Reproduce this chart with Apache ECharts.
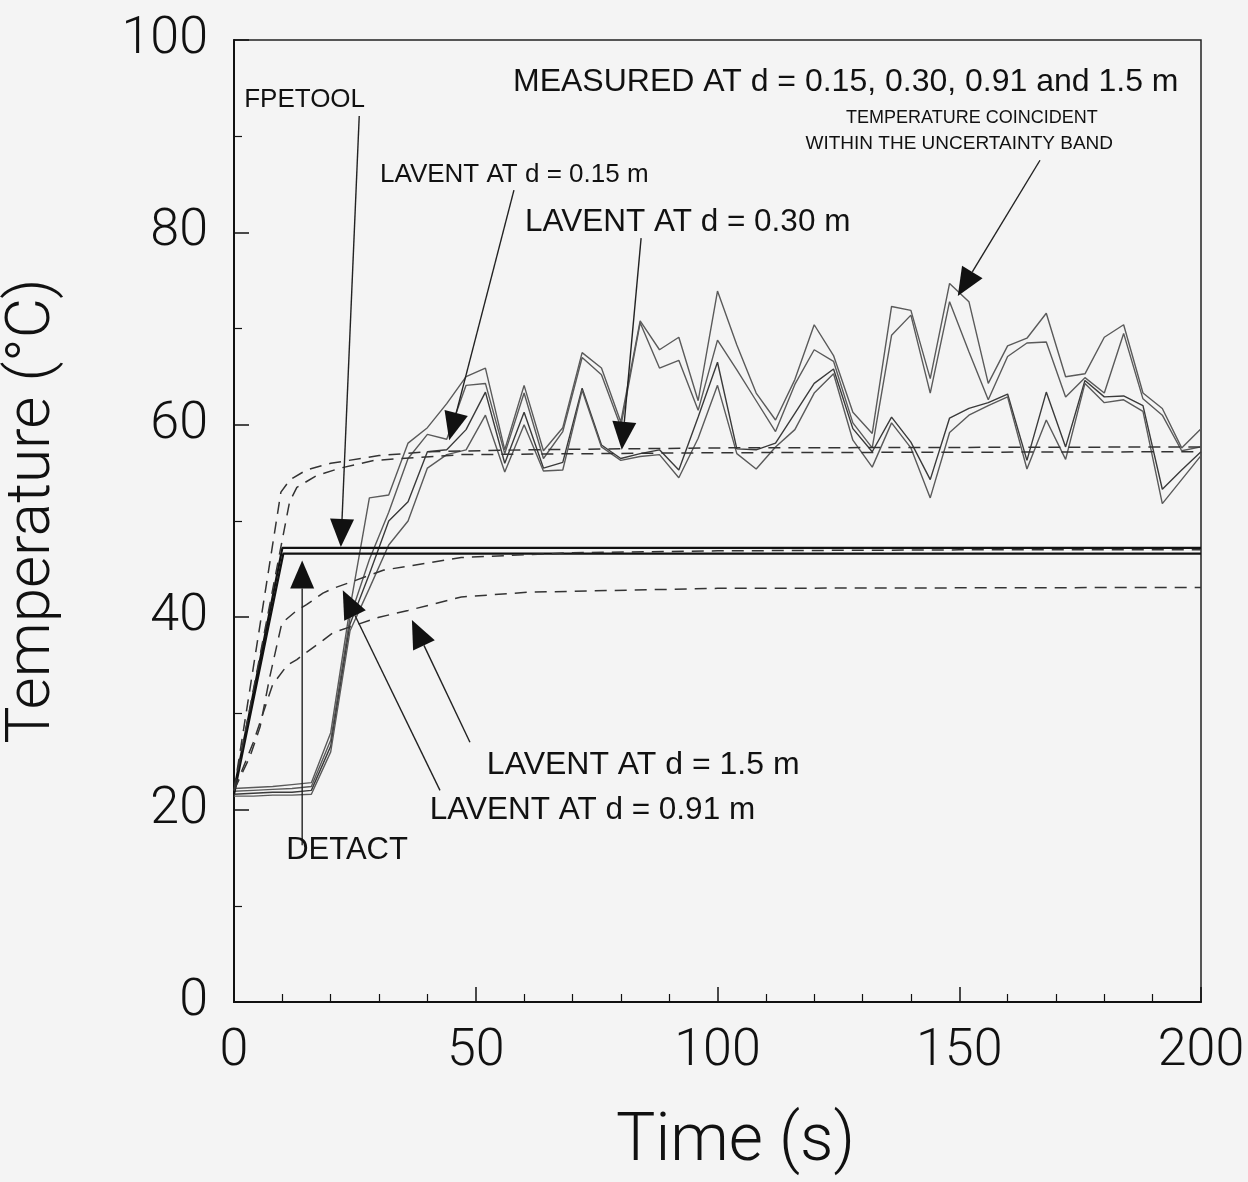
<!DOCTYPE html>
<html>
<head>
<meta charset="utf-8">
<script src="https://cdn.jsdelivr.net/npm/echarts@6/dist/echarts.min.js"></script>
<style>
  html, body { margin: 0; padding: 0; background: #f4f4f4; }
  #chart { width: 1248px; height: 1182px; }
</style>
</head>
<body>
<div id="chart"></div>
<script>
// measured temperatures (4 thermocouples), sampled every 4 s
var time = [0, 4, 8, 12, 16, 20, 24, 28, 32, 36, 40, 44, 48, 52, 56, 60, 64, 68, 72, 76,
  80, 84, 88, 92, 96, 100, 104, 108, 112, 116, 120, 124, 128, 132, 136, 140, 144, 148,
  152, 156, 160, 164, 168, 172, 176, 180, 184, 188, 192, 196, 200];

var measuredA = [22.2, 22.3, 22.4, 22.6, 22.8, 28.0, 41.0, 52.4, 52.7, 58.1, 59.7, 62.2, 65.0,
  65.9, 57.4, 64.1, 57.3, 59.7, 67.5, 65.9, 60.3, 70.8, 67.8, 69.1, 62.5, 73.9, 68.3, 63.3,
  60.5, 64.7, 70.4, 67.2, 61.3, 59.1, 72.3, 71.9, 64.8, 74.7, 72.8, 64.3, 68.2, 69.0, 71.6,
  65.0, 65.3, 69.1, 70.4, 63.3, 61.7, 57.6, 59.6];
var measuredB = [21.9, 22.0, 22.1, 22.2, 22.4, 27.2, 40.0, 46.0, 50.9, 56.5, 59.0, 58.5, 64.1,
  64.3, 57.0, 63.3, 56.5, 59.3, 67.0, 65.2, 59.8, 70.6, 65.9, 66.7, 61.5, 68.8, 65.7, 62.5,
  59.3, 64.2, 67.8, 66.6, 60.2, 57.6, 69.3, 71.4, 63.3, 72.8, 67.6, 62.6, 67.1, 68.5, 68.6,
  62.9, 64.9, 63.3, 69.5, 62.7, 61.0, 57.3, 57.7];
var measuredC = [21.6, 21.7, 21.8, 21.8, 22.0, 26.6, 39.3, 44.5, 50.0, 52.0, 57.2, 57.4, 59.5,
  63.4, 56.0, 61.3, 55.5, 56.1, 63.8, 57.9, 56.5, 57.0, 57.4, 55.3, 60.8, 66.5, 57.5, 57.4,
  58.1, 61.2, 64.3, 65.8, 59.6, 57.2, 60.8, 58.2, 54.3, 60.7, 61.7, 62.3, 63.2, 56.3, 63.4,
  57.7, 64.6, 62.9, 63.0, 62.0, 53.3, 55.3, 57.2];
var measuredD = [21.4, 21.4, 21.5, 21.5, 21.6, 26.0, 38.6, 43.0, 47.5, 50.0, 55.5, 56.9, 57.4,
  61.0, 55.1, 60.0, 55.2, 55.3, 63.6, 57.7, 56.3, 56.7, 56.9, 54.5, 58.6, 64.1, 57.0, 55.4,
  57.7, 59.5, 63.3, 65.3, 58.4, 55.6, 60.2, 57.6, 52.4, 59.2, 61.0, 62.0, 62.9, 55.4, 60.5,
  56.4, 64.3, 62.3, 62.6, 61.4, 51.8, 54.3, 56.8];

// model predictions
var fpetoolTime = [0, 10, 200];
var fpetool = [22.0, 47.2, 47.2];
var detactTime = [0, 10.2, 200];
var detact = [21.6, 46.6, 46.6];

var lavent015Time = [0, 9.7, 11.6, 15, 20, 30, 40, 60, 100, 200];
var lavent015 = [22.0, 53.0, 54.3, 55.3, 56.0, 56.8, 57.2, 57.4, 57.6, 57.7];
var lavent030Time = [0, 11.5, 13, 17, 22, 29, 47, 100, 200];
var lavent030 = [22.0, 52.0, 53.5, 54.7, 55.5, 56.3, 56.9, 57.1, 57.2];
var lavent091Time = [0, 3.3, 5.4, 7.4, 9.9, 13, 15, 18.4, 20.5, 25, 31, 47, 70, 100, 150, 200];
var lavent091 = [22.0, 25.5, 28.6, 33.8, 39.4, 40.7, 41.3, 42.5, 43.0, 43.8, 44.9, 46.2, 46.7, 46.9, 47.0, 47.0];
var lavent15Time = [0, 4, 8, 11, 13, 18.4, 20.5, 30, 36, 47, 61, 100, 200];
var lavent15 = [22.0, 27.0, 33.0, 35.0, 35.6, 37.6, 38.4, 40.0, 40.7, 42.1, 42.6, 43.0, 43.1];

var xTicks = [0, 50, 100, 150, 200];
var yTicks = [0, 20, 40, 60, 80, 100];

// annotations, in data coordinates (time, temperature)
var arrows = [
  { from: [25.9, 92.1], to: [22.1, 47.3] },   // FPETOOL
  { from: [14.1, 16.3], to: [14.1, 45.9] },   // DETACT
  { from: [57.9, 84.4], to: [44.5, 58.4] },   // LAVENT 0.15
  { from: [84.2, 79.4], to: [80.2, 57.4] },   // LAVENT 0.30
  { from: [166.7, 87.5], to: [149.7, 73.4] }, // MEASURED
  { from: [48.8, 27.0], to: [36.8, 39.7] },   // LAVENT 1.5
  { from: [42.6, 22.0], to: [22.5, 42.8] }    // LAVENT 0.91
];
var notes = [
  { text: "FPETOOL", at: [2.1, 93.8], size: 26, align: "left" },
  { text: "MEASURED AT d = 0.15, 0.30, 0.91 and 1.5 m", at: [57.7, 95.6], size: 32, align: "left" },
  { text: "TEMPERATURE COINCIDENT", at: [152.6, 91.9], size: 18, align: "center" },
  { text: "WITHIN THE UNCERTAINTY BAND", at: [150.0, 89.2], size: 19, align: "center" },
  { text: "LAVENT AT d = 0.15 m", at: [30.2, 86.0], size: 26, align: "left" },
  { text: "LAVENT AT d = 0.30 m", at: [60.2, 81.1], size: 31.5, align: "left" },
  { text: "LAVENT AT d = 1.5 m", at: [52.3, 24.6], size: 32, align: "left" },
  { text: "LAVENT AT d = 0.91 m", at: [40.5, 19.9], size: 31.5, align: "left" },
  { text: "DETACT", at: [10.8, 15.8], size: 31, align: "left" }
];

function pairs(xs, ys) {
  return xs.map(function (x, i) {
    return [x, ys[i]];
  });
}

function lineSeries(name, data, color, width, dash) {
  return {
    name: name,
    type: "line",
    data: data,
    symbol: "none",
    smooth: false,
    silent: true,
    lineStyle: { color: color, width: width, type: dash || "solid" },
    z: 3,
  };
}

var chart = echarts.init(document.getElementById("chart"));
var axisFont = { fontFamily: "Roboto", fontWeight: 300, color: "#111" };

var option = {
  backgroundColor: "#f4f4f4",
  animation: false,
  grid: {
    left: 234, right: 47, top: 40, bottom: 180,
    outerBoundsMode: "none", containLabel: false,
    show: true, borderColor: "#222", borderWidth: 1.5,
  },
  xAxis: {
    type: "value", min: 0, max: 200, interval: 50,
    name: "Time (s)", nameLocation: "middle", nameGap: 108,
    nameTextStyle: Object.assign({ fontSize: 66, padding: [0, 0, 0, 36] }, axisFont),
    axisLine: { lineStyle: { color: "#111", width: 2 } },
    axisTick: { inside: true, length: 15, lineStyle: { color: "#111", width: 1.5 } },
    minorTick: { show: true, splitNumber: 5, length: 8, lineStyle: { color: "#111", width: 1.2 } },
    axisLabel: Object.assign({ fontSize: 52, margin: 24,
      formatter: function (v) { return xTicks.indexOf(v) >= 0 ? v : ""; } }, axisFont),
    splitLine: { show: false },
  },
  yAxis: {
    type: "value", min: 0, max: 100, interval: 20,
    name: "Temperature (°C)", nameLocation: "middle", nameGap: 170,
    nameTextStyle: Object.assign({ fontSize: 62, padding: [0, 0, 0, 20] }, axisFont),
    axisLine: { lineStyle: { color: "#111", width: 2 } },
    axisTick: { inside: true, length: 15, lineStyle: { color: "#111", width: 1.5 } },
    minorTick: { show: true, splitNumber: 2, length: 8, lineStyle: { color: "#111", width: 1.2 } },
    axisLabel: Object.assign({ fontSize: 52, margin: 26,
      formatter: function (v) { return yTicks.indexOf(v) >= 0 ? v : ""; } }, axisFont),
    splitLine: { show: false },
  },
  series: [
    lineSeries("Measured A", pairs(time, measuredA), "#5a5a5a", 1.4),
    lineSeries("Measured B", pairs(time, measuredB), "#5a5a5a", 1.4),
    lineSeries("Measured C", pairs(time, measuredC), "#3a3a3a", 1.4),
    lineSeries("Measured D", pairs(time, measuredD), "#5a5a5a", 1.4),
    lineSeries("FPETOOL", pairs(fpetoolTime, fpetool), "#111", 2.2),
    lineSeries("DETACT", pairs(detactTime, detact), "#111", 2.2),
    lineSeries("LAVENT 0.15", pairs(lavent015Time, lavent015), "#333", 1.5, [12, 8]),
    lineSeries("LAVENT 0.30", pairs(lavent030Time, lavent030), "#333", 1.5, [12, 8]),
    lineSeries("LAVENT 0.91", pairs(lavent091Time, lavent091), "#333", 1.5, [12, 8]),
    lineSeries("LAVENT 1.5", pairs(lavent15Time, lavent15), "#333", 1.5, [12, 8]),
  ],
};
chart.setOption(option);

// arrows and notes placed through the grid's own coordinate system
var graphics = [];
arrows.forEach(function (a) {
  var p0 = chart.convertToPixel({ gridIndex: 0 }, a.from);
  var p1 = chart.convertToPixel({ gridIndex: 0 }, a.to);
  var dx = p1[0] - p0[0], dy = p1[1] - p0[1];
  var len = Math.sqrt(dx * dx + dy * dy);
  var ux = dx / len, uy = dy / len;
  var hl = 28, hw = 12;
  var bx = p1[0] - ux * hl, by = p1[1] - uy * hl;
  graphics.push({
    type: "line", silent: true, z: 10,
    shape: { x1: p0[0], y1: p0[1], x2: bx, y2: by },
    style: { stroke: "#222", lineWidth: 1.4 },
  });
  graphics.push({
    type: "polygon", silent: true, z: 10,
    shape: { points: [[p1[0], p1[1]], [bx - uy * hw, by + ux * hw], [bx + uy * hw, by - ux * hw]] },
    style: { fill: "#111" },
  });
});
notes.forEach(function (n) {
  var p = chart.convertToPixel({ gridIndex: 0 }, n.at);
  graphics.push({
    type: "text", silent: true, z: 10, x: p[0], y: p[1],
    style: {
      text: n.text, fill: "#111", align: n.align, verticalAlign: "middle",
      font: "normal " + n.size + "px 'Liberation Sans', Arial, sans-serif",
    },
  });
});
chart.setOption({ graphic: graphics });
</script>
</body>
</html>
